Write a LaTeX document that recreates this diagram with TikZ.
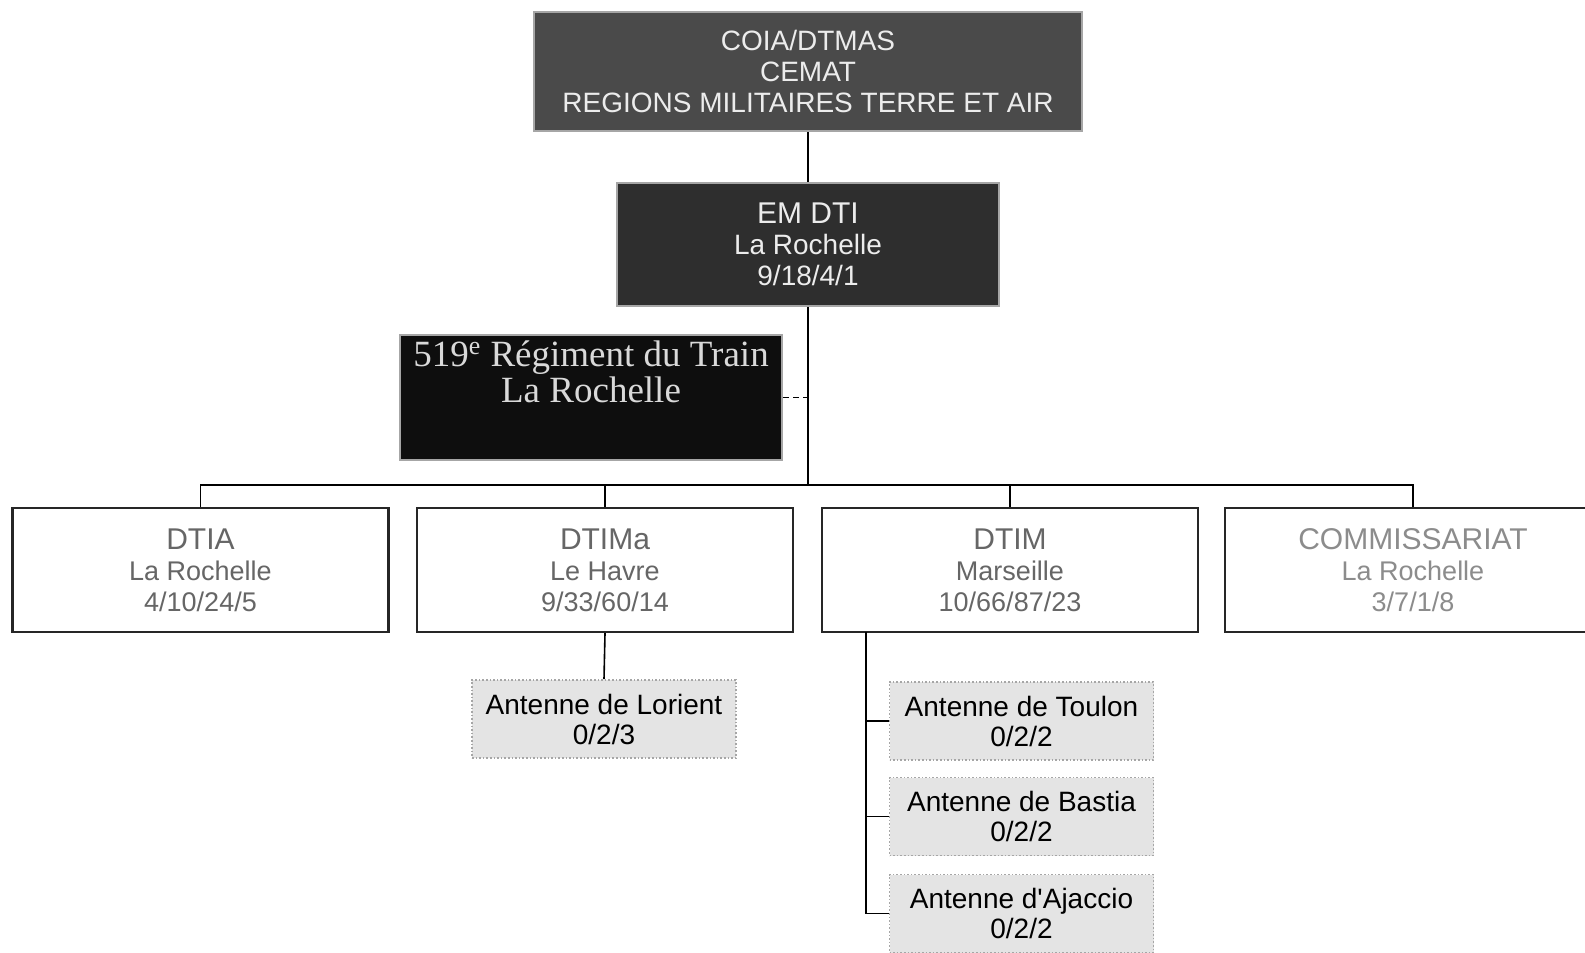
\documentclass[tikz,border=0pt]{standalone}
\usepackage{fontspec}
\setmainfont{Liberation Sans}
\newfontfamily\regfont{Liberation Serif}
\definecolor{topgrey}{HTML}{4A4A4A}
\definecolor{emgrey}{HTML}{2E2E2E}
\definecolor{regblack}{HTML}{0E0E0E}
\definecolor{antfill}{HTML}{E4E4E4}
\tikzset{
  unit/.style={draw=black!85, line width=1.2pt, fill=white, text=black!60,
    align=center, inner sep=0pt, minimum width=188pt, minimum height=62pt,
    font=\fontsize{13.5}{15.5}\selectfont},
  darkunit/.style={draw=gray!70, line width=1pt, text=gray!15,
    align=center, inner sep=0pt, font=\fontsize{14}{15.5}\selectfont},
  antenne/.style={draw=gray!70, densely dotted, line width=0.8pt, fill=antfill,
    align=center, inner sep=0pt, minimum width=132pt, minimum height=39pt,
    font=\fontsize{14}{15}\selectfont},
  link/.style={line width=0.8pt, black}
}
\begin{document}
\begin{tikzpicture}[x=0.5pt,y=-0.5pt]
  \clip (0,0) rectangle (1585,953);

  % direction
  \node[darkunit, fill=topgrey, minimum width=274pt, minimum height=59.5pt] (coia) at (808,71.5)
    {COIA/DTMAS\\CEMAT\\REGIONS MILITAIRES TERRE ET AIR};
  \node[darkunit, fill=emgrey, minimum width=191pt, minimum height=61.5pt] (emdti) at (808,244.5)
    {\fontsize{15}{15.5}\selectfont EM DTI\\La Rochelle\\9/18/4/1};
  \node[darkunit, fill=regblack, minimum width=191pt, minimum height=62.5pt,
        text=gray!30, font=\regfont\fontsize{18.5}{16}\selectfont] (regt) at (591,397.5)
    {519\textsuperscript{e} Régiment du Train\\La Rochelle\\[10pt]};

  \coordinate (bus) at (808,485);

  % directions
  \node[unit] (dtia) at (200.5,570)
    {{\fontsize{15}{15.5}\selectfont DTIA}\\La Rochelle\\4/10/24/5};
  \node[unit] (dtima) at (605,570)
    {{\fontsize{15}{15.5}\selectfont DTIMa}\\Le Havre\\9/33/60/14};
  \node[unit] (dtim) at (1010,570)
    {{\fontsize{15}{15.5}\selectfont DTIM}\\Marseille\\10/66/87/23};
  \node[unit, text=black!45] (comm) at (1413,570)
    {{\fontsize{15}{15.5}\selectfont COMMISSARIAT}\\La Rochelle\\3/7/1/8};

  % antennes
  \node[antenne] (lorient) at (604,719) {Antenne de Lorient\\0/2/3};
  \node[antenne] (toulon) at (1021.5,721) {Antenne de Toulon\\0/2/2};
  \node[antenne] (bastia) at (1021.5,816.5) {Antenne de Bastia\\0/2/2};
  \node[antenne] (ajaccio) at (1021.5,913.5) {Antenne d\textquotesingle Ajaccio\\0/2/2};

  \coordinate (spine) at (866,632);

  % liaisons
  \draw[link] (coia) -- (emdti);
  \draw[link] (emdti) -- (bus);
  \draw[link, densely dashed] (regt.east) -- (regt.east -| bus);
  \draw[link] (dtia.north) |- (comm.north |- bus) -- (comm.north);
  \draw[link] (dtima.north) -- (dtima.north |- bus);
  \draw[link] (dtim.north) -- (dtim.north |- bus);
  \draw[link] (dtima.south) -- (lorient.north);
  \draw[link] (spine) |- (ajaccio.west);
  \draw[link] (spine |- toulon) -- (toulon.west);
  \draw[link] (spine |- bastia) -- (bastia.west);

\end{tikzpicture}
\end{document}
